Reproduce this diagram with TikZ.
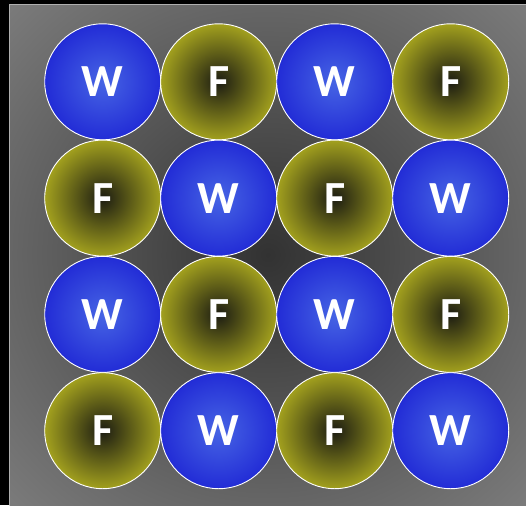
\documentclass[tikz,border=0pt]{standalone}
\usepackage{fontspec}
\setmainfont{Carlito}

%% colori
\definecolor{sfondoC}{RGB}{50,50,50}
\definecolor{sfondoE}{RGB}{102,102,102}
\definecolor{sfondoK}{RGB}{124,124,124}
\definecolor{bordoS}{RGB}{175,175,175}
\definecolor{bluC}{RGB}{70,100,228}
\definecolor{bluE}{RGB}{34,44,214}
\definecolor{olivaC}{RGB}{28,28,18}
\definecolor{olivaE}{RGB}{162,160,30}

%% sfondo a gradiente radiale (angoli piu' chiari)
\pgfdeclareradialshading{sfondo}{\pgfpointorigin}{%
	color(0bp)=(sfondoC); color(25bp)=(sfondoE);
	color(36bp)=(sfondoK); color(50bp)=(sfondoK)}

\begin{document}
\begin{tikzpicture}[x=1pt, y=-1pt,
	cella/.style  = {circle, draw=white, line width=0.9pt,
		inner sep=0pt, minimum size=116pt, shading=radial,
		text=white, font=\fontsize{46}{46}\selectfont\bfseries},
	acqua/.style  = {cella, inner color=bluC, outer color=bluE},
	fuoco/.style  = {cella, inner color=olivaC, outer color=olivaE},
	]
	
	%% ── Parametri geometrici (unità = pixel) ─────────────────────────────────
	\def\xO{102.7}   % centro prima colonna
	\def\yO{81.8}    % centro prima riga
	\def\px{116.0}   % passo orizzontale
	\def\py{116.3}   % passo verticale
	
	\useasboundingbox (0,0) rectangle (526,505);
	
	%% ── Sfondo ───────────────────────────────────────────────────────────────
	\fill[black](0,0) rectangle (526,505);
	\shade[shading=sfondo](9.5,4.5) rectangle (526,505);
	\draw[bordoS, line width=1.5pt](526,4.5)--(9.5,4.5)--(9.5,505);
	
	%% ── Griglia 4x4 di cerchi ────────────────────────────────────────────────
	\foreach \i in {0,...,3}{
		\foreach \j in {0,...,3}{
			\pgfmathsetmacro{\xx}{\xO + \i*\px}
			\pgfmathsetmacro{\yy}{\yO + \j*\py}
			\pgfmathtruncatemacro{\pari}{mod(\i+\j,2)}
			\ifnum\pari=0
			\node[acqua] (c-\i-\j) at (\xx,\yy) {W};
			\else
			\node[fuoco] (c-\i-\j) at (\xx,\yy) {F};
			\fi
	}}
	
\end{tikzpicture}
\end{document}
